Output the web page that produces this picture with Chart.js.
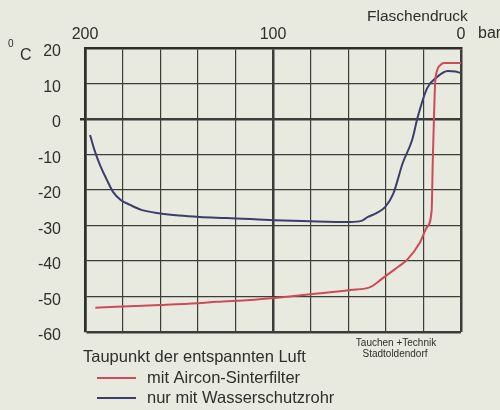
<!DOCTYPE html>
<html>
<head>
<meta charset="utf-8">
<script src="https://cdn.jsdelivr.net/npm/chart.js@4"></script>
<style>
  html, body { margin: 0; padding: 0; background: #e9eadf; }
  #wrap { width: 500px; height: 410px; }
</style>
</head>
<body>
<div id="wrap"><canvas id="chart" width="500" height="410"></canvas></div>
<script>
// Flaschendruck (bar) und Taupunkt (°C)
const redLabel = 'mit Aircon-Sinterfilter'
const redX = [194.5, 180, 160, 140, 130, 112, 99, 80, 59, 48, 43, 38, 33, 28.7, 22, 18, 15.6, 15, 14.5, 13.8, 12.8, 11, 9, 0]
const redY = [-53.2, -52.8, -52.4, -51.9, -51.5, -51.0, -50.4, -49.4, -48.2, -47.3, -45.4, -43.4, -41.5, -39.7, -34.9, -30.4, -25.6, -11.5, -2, 9.6, 13.5, 15.2, 15.8, 15.8]

const blueLabel = 'nur mit Wasserschutzrohr'
const blueX = [197.3, 195, 192, 188.5, 185, 181, 176, 170, 160, 150, 139, 125, 112, 99, 80, 59, 53, 49.5, 45, 40.4, 36, 31, 26, 23, 18, 12.8, 7, 3, 0.5]
const blueY = [-4.5, -8.7, -13, -17, -20.6, -22.8, -24.2, -25.6, -26.6, -27.2, -27.6, -27.9, -28.2, -28.5, -28.8, -29.0, -28.7, -27.6, -26.5, -24.8, -21, -12.4, -5.9, 0.6, 8.7, 11.8, 13.5, 13.4, 13]

const xTickLabels = [200, 100, 0]
const yTicks = [20, 10, 0, -10, -20, -30, -40, -50, -60]

const toPoints = (xs, ys) => xs.map((x, i) => ({ x: x, y: ys[i] }))

const ink = '#2e2e2b'
const font = "'Liberation Sans', Arial, sans-serif"

// Zusatztexte und Legende direkt auf die Leinwand
const extras = {
    id: 'extras',
    beforeDraw(chart) {
        const c = chart.ctx
        c.save()
        c.fillStyle = '#e9eadf'
        c.fillRect(0, 0, chart.width, chart.height)
        c.restore()
    },
    afterDraw(chart) {
        const c = chart.ctx
        c.save()
        c.fillStyle = ink
        c.textBaseline = 'middle'
        c.textAlign = 'left'
        c.font = '10px ' + font
        c.fillText('0', 8, 44)
        c.font = '16px ' + font
        c.fillText('C', 20, 56)
        c.font = '15.5px ' + font
        c.fillText('Flaschendruck', 367, 17)
        c.font = '16px ' + font
        c.fillText('bar', 478, 34)

        c.font = '10px ' + font
        c.textAlign = 'center'
        c.fillText('Tauchen +Technik', 396, 343)
        c.fillText('Stadtoldendorf', 395, 354)

        c.textAlign = 'left'
        c.font = '16.5px ' + font
        c.fillText('Taupunkt der entspannten Luft', 83, 357)
        const items = chart.data.datasets
        items.forEach((ds, i) => {
            const y = 378 + i * 20
            c.strokeStyle = ds.borderColor
            c.lineWidth = 2
            c.beginPath()
            c.moveTo(97, y)
            c.lineTo(136, y)
            c.stroke()
            c.fillText(ds.label, 147, y)
        })
        c.restore()
    }
}

const context = document.getElementById('chart').getContext('2d')
const chart = new Chart(context, {
    type: 'scatter',
    data: {
        datasets: [
            {
                label: redLabel,
                data: toPoints(redX, redY),
                showLine: true,
                borderColor: '#cf4a58',
                borderWidth: 2,
                pointRadius: 0,
                cubicInterpolationMode: 'monotone'
            },
            {
                label: blueLabel,
                data: toPoints(blueX, blueY),
                showLine: true,
                borderColor: '#3b3d6e',
                borderWidth: 2,
                pointRadius: 0,
                cubicInterpolationMode: 'monotone'
            }
        ]
    },
    plugins: [extras],
    options: {
        responsive: false,
        animation: false,
        layout: { padding: { top: 0, left: 0, right: 39, bottom: 78 } },
        plugins: {
            legend: { display: false },
            tooltip: { enabled: false }
        },
        scales: {
            x: {
                type: 'linear',
                position: 'top',
                reverse: true,
                min: 0,
                max: 200,
                afterFit: (scale) => { scale.height = 48 },
                border: { display: true, color: ink, width: 2.5 },
                grid: {
                    drawTicks: false,
                    color: '#3c3c38',
                    lineWidth: (ctx) => (ctx.tick && [0, 100, 200].includes(ctx.tick.value)) ? 2.5 : 1.2
                },
                ticks: {
                    stepSize: 20,
                    padding: 4,
                    maxRotation: 0,
                    color: ink,
                    font: { family: font, size: 16 },
                    callback: (v) => xTickLabels.includes(v) ? String(v) : ''
                }
            },
            y: {
                type: 'linear',
                min: -60,
                max: 20,
                afterFit: (scale) => { scale.width = 85 },
                border: { display: true, color: ink, width: 2.5 },
                grid: {
                    color: '#3c3c38',
                    tickLength: 5,
                    tickColor: (ctx) => (ctx.tick && ctx.tick.value === 0) ? ink : 'rgba(0,0,0,0)',
                    tickWidth: 2.5,
                    lineWidth: (ctx) => (ctx.tick && [0, -60].includes(ctx.tick.value)) ? 2.5 : 1.2
                },
                afterBuildTicks: (scale) => { scale.ticks = yTicks.map(v => ({ value: v })) },
                ticks: {
                    padding: 19,
                    labelOffset: 4,
                    color: ink,
                    font: { family: font, size: 16 }
                }
            }
        }
    }
})
</script>
</body>
</html>
